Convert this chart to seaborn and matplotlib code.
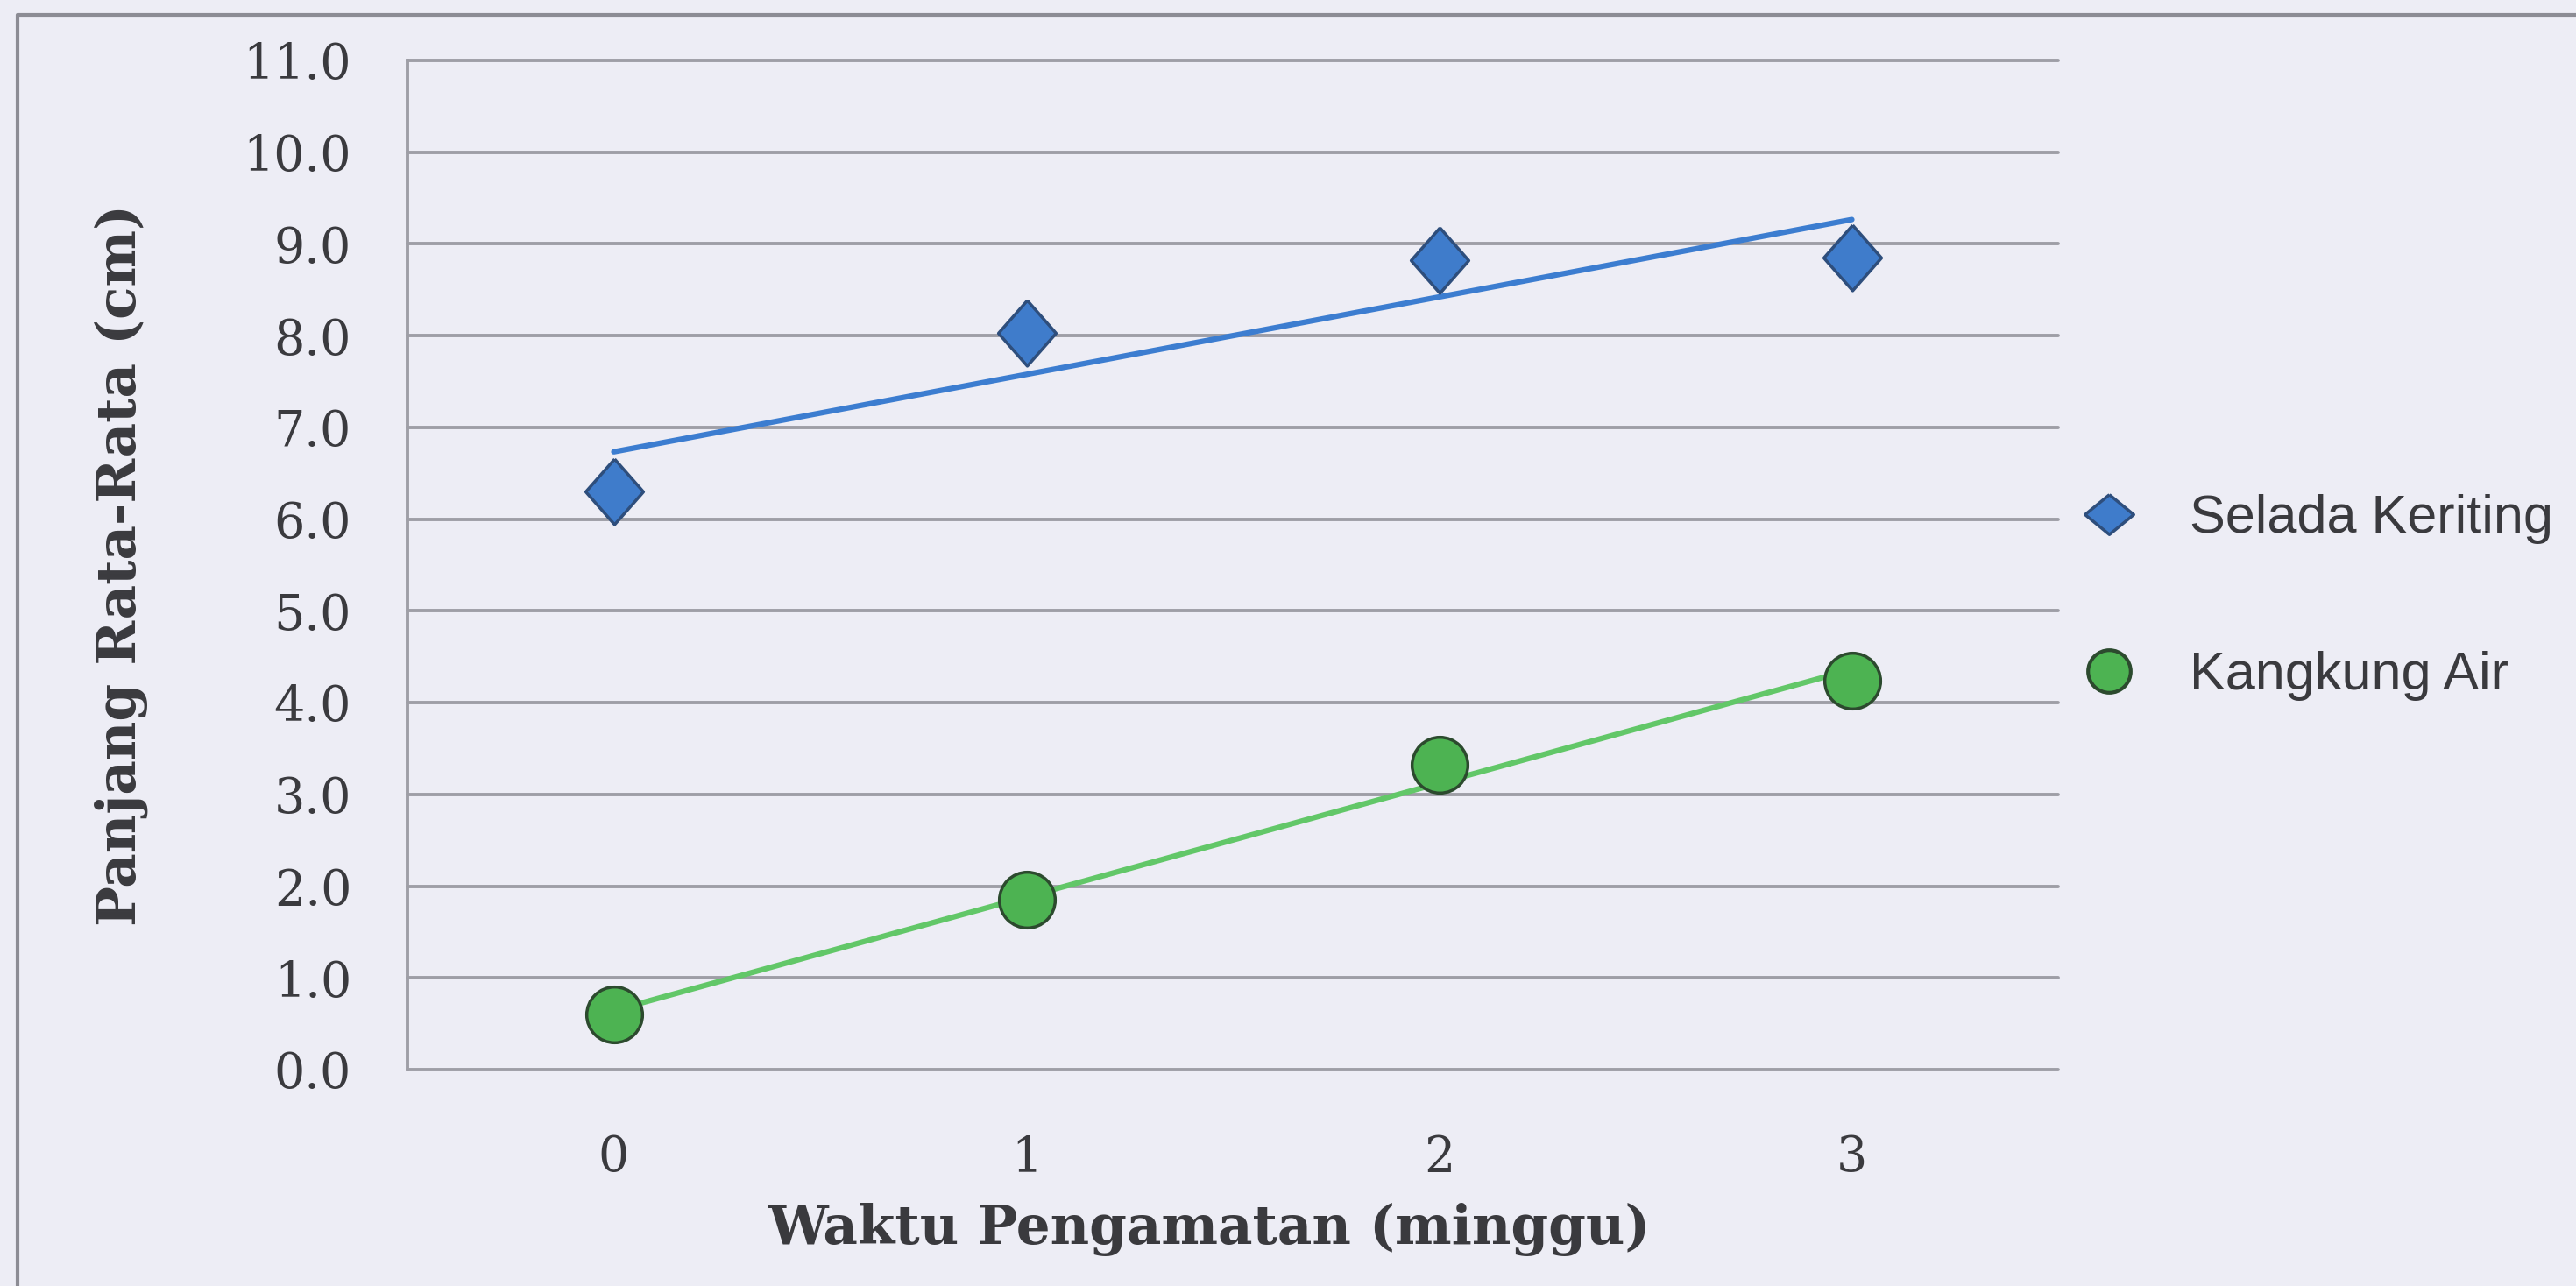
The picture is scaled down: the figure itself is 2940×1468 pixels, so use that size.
import numpy as np
import pandas as pd
import matplotlib
matplotlib.use("Agg")
import matplotlib.pyplot as plt
from matplotlib.lines import Line2D
import seaborn as sns

# Observation weeks and mean plant length (cm)
weeks = [0, 1, 2, 3]
selada_keriting = [6.30, 8.03, 8.82, 8.85]
kangkung_air = [0.60, 1.85, 3.32, 4.24]
series_names = ["Selada Keriting", "Kangkung Air"]
y_ticks = [0.0, 1.0, 2.0, 3.0, 4.0, 5.0, 6.0, 7.0, 8.0, 9.0, 10.0, 11.0]

df = pd.DataFrame({"minggu": weeks * 2,
                   "panjang": selada_keriting + kangkung_air,
                   "tanaman": [series_names[0]] * 4 + [series_names[1]] * 4})

bg = "#EDEDF5"
grid_col = "#9E9EA6"
text_col = "#3A3A3E"
blue = "#3F7CCB"
blue_line = "#3C7DD0"
green = "#4DB352"
green_line = "#62C768"

sns.set_theme(style="white")
plt.rcParams["font.family"] = ["DejaVu Serif"]

W, H = 2940, 1468
fig = plt.figure(figsize=(W / 100, H / 100), dpi=100, facecolor=bg)
ax = fig.add_axes([465 / W, 1 - 1221 / H, (2349 - 465) / W, (1221 - 69) / H])
ax.set_facecolor(bg)

# Slightly tall diamond for the data points, a flatter one for the legend key
diamond = [(0, 1), (0.88, 0), (0, -1), (-0.88, 0), (0, 1)]
diamond_key = [(0, 0.82), (1, 0), (0, -0.82), (-1, 0), (0, 0.82)]

styles = {
    series_names[0]: dict(marker=diamond, color=blue, line=blue_line, s=2900, edge="#2E4E7C"),
    series_names[1]: dict(marker="o", color=green, line=green_line, s=2100, edge="#2C4A2E"),
}

for name in series_names:
    sub = df[df["tanaman"] == name]
    st = styles[name]
    sns.regplot(data=sub, x="minggu", y="panjang", ax=ax, ci=None, truncate=True,
                marker=st["marker"],
                scatter_kws=dict(s=st["s"], color=st["color"], edgecolors=st["edge"],
                                 linewidths=2.5, alpha=1, zorder=4),
                line_kws=dict(color=st["line"], lw=4.5, zorder=3))

ax.set_xlim(-0.5, 3.5)
ax.set_ylim(0, 11)
ax.set_yticks(y_ticks)
ax.set_yticklabels([f"{v:.1f}" for v in y_ticks])
ax.set_xticks(weeks)
ax.set_xticklabels([str(w) for w in weeks])
ax.yaxis.grid(True, color=grid_col, lw=2.8)
ax.xaxis.grid(False)
ax.set_axisbelow(True)
for gl in ax.get_ygridlines():
    gl.set_clip_on(False)
for side in ["top", "right", "bottom"]:
    ax.spines[side].set_visible(False)
ax.spines["left"].set_color(grid_col)
ax.spines["left"].set_linewidth(2.8)
ax.tick_params(axis="both", length=0, labelsize=40, colors=text_col)
ax.tick_params(axis="y", pad=46)
ax.tick_params(axis="x", pad=53)

ax.set_xlabel("Waktu Pengamatan (minggu)", fontsize=44, fontweight="bold", color=text_col)
ax.set_ylabel("Panjang Rata-Rata (cm)", fontsize=44, fontweight="bold", color=text_col)
ax.xaxis.set_label_coords(0.486, -0.132)
ax.yaxis.set_label_coords(-0.157, 0.5)

handles = [
    Line2D([], [], ls="none", marker=diamond_key, markersize=40, markerfacecolor=blue,
           markeredgecolor="#2E4E7C", markeredgewidth=2.5),
    Line2D([], [], ls="none", marker="o", markersize=35, markerfacecolor=green,
           markeredgecolor="#2C4A2E", markeredgewidth=3),
]
leg = fig.legend(handles, series_names, loc="center left",
                 bbox_to_anchor=(2376 / W, 1 - 682 / H), frameon=False,
                 borderpad=0, borderaxespad=0,
                 prop={"family": "Liberation Sans", "size": 44}, labelspacing=2.0,
                 handletextpad=1.02, handlelength=1.0)
for t in leg.get_texts():
    t.set_color(text_col)

# Outer chart border
fig.add_artist(Line2D([20 / W, 20 / W, 1.0], [0.0, 1 - 17 / H, 1 - 17 / H],
                      transform=fig.transFigure, color="#8C8C94", lw=3))

fig.savefig("out.png", dpi=100, facecolor=bg)
